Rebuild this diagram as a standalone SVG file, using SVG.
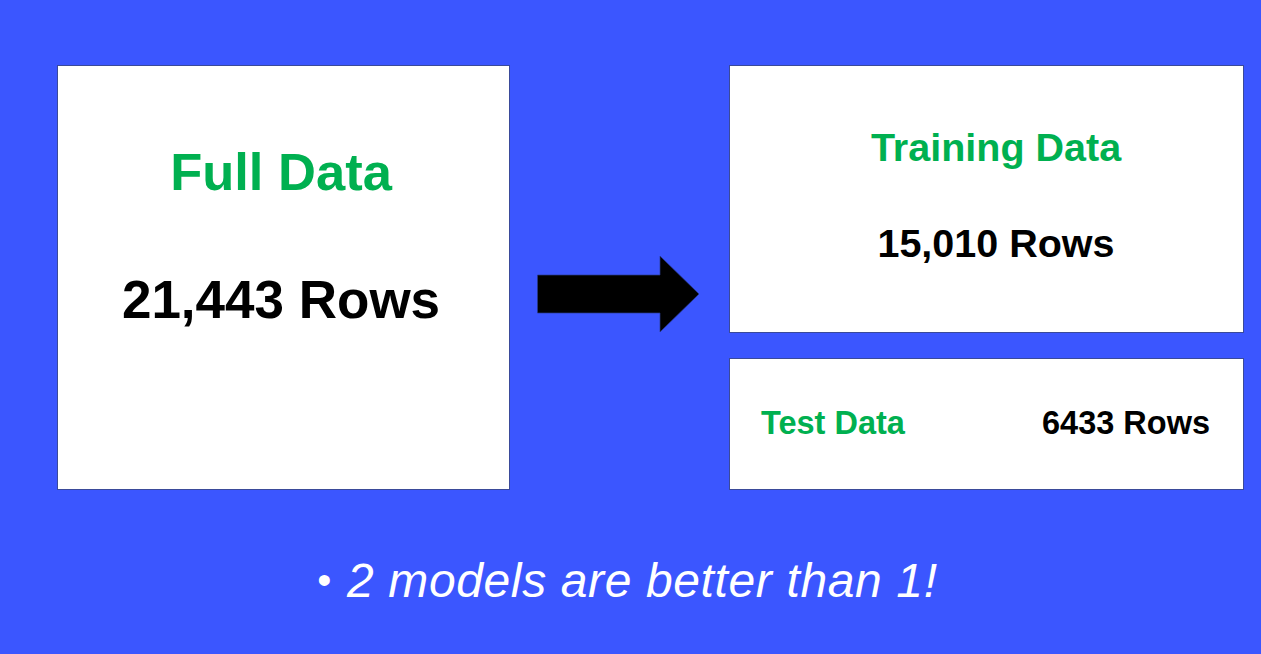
<svg xmlns="http://www.w3.org/2000/svg" width="1261" height="654" viewBox="0 0 1261 654">
<style>
.box{fill:#ffffff;stroke:#3a4a9a;stroke-width:1}
.g{fill:#00b050;font-family:"Liberation Sans",Arial,sans-serif;font-weight:bold}
.k{fill:#000000;font-family:"Liberation Sans",Arial,sans-serif;font-weight:bold}
.w{fill:#ffffff;font-family:"Liberation Sans",Arial,sans-serif;font-style:italic}
</style>
<rect x="0" y="0" width="1261" height="654" fill="#3b56ff"/>
<g id="full-data">
<rect class="box" x="57.5" y="65.5" width="452" height="424"/>
<text class="g" x="281" y="190" font-size="52.5" text-anchor="middle">Full Data</text>
<text class="k" x="281" y="318" font-size="53" text-anchor="middle">21,443 Rows</text>
</g>
<g id="training-data">
<rect class="box" x="729.5" y="65.5" width="514" height="267"/>
<text class="g" x="996" y="161" font-size="39.5" text-anchor="middle">Training Data</text>
<text class="k" x="996" y="257" font-size="39.5" text-anchor="middle">15,010 Rows</text>
</g>
<g id="test-data">
<rect class="box" x="729.5" y="358.5" width="514" height="131"/>
<text class="g" x="761" y="434" font-size="32.5">Test Data</text>
<text class="k" x="1210" y="434" font-size="32.5" text-anchor="end">6433 Rows</text>
</g>
<g id="connectors">
<polygon points="537.5,275 660,275 660,256 699,294 660,332 660,313 537.5,313" fill="#000000" stroke="#2a3a8a" stroke-width="0.7"/>
</g>
<g id="caption">
<text class="w" x="317" y="594" font-size="40" font-style="normal">•</text>
<text class="w" x="347" y="597" font-size="48" textLength="590">2 models are better than 1!</text>
</g>
</svg>
